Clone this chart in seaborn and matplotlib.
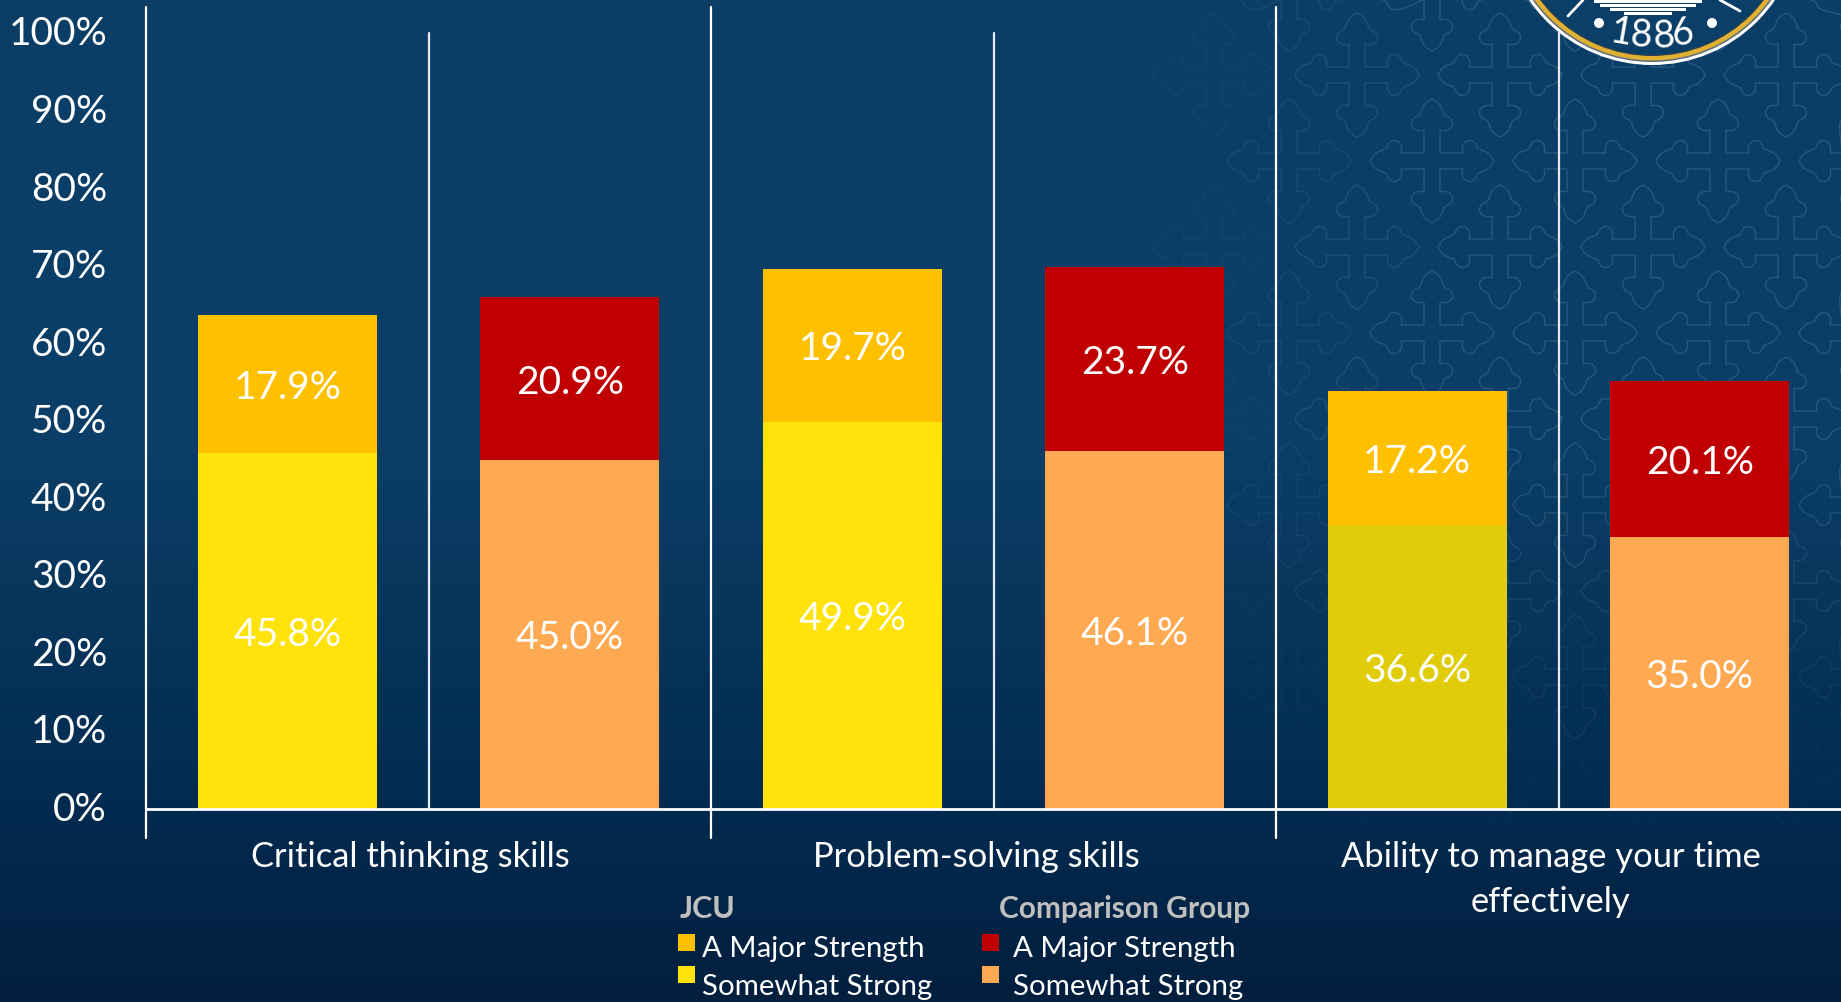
import numpy as np
import pandas as pd
import matplotlib
matplotlib.use("Agg")
import matplotlib.pyplot as plt
from matplotlib.path import Path
from matplotlib.patches import PathPatch, Circle, Rectangle
from matplotlib.colors import LinearSegmentedColormap
from matplotlib.transforms import ScaledTranslation
import seaborn as sns

categories = ["Critical thinking skills", "Problem-solving skills", "Ability to manage your time\neffectively"]
slots = ["JCU 1", "Comparison 1", "JCU 2", "Comparison 2", "JCU 3", "Comparison 3"]
somewhat = [45.8, 45.0, 49.9, 46.1, 36.6, 35.0]
major = [17.9, 20.9, 19.7, 23.7, 17.2, 20.1]
somewhat_colors = ["#FFE30B", "#FFA952", "#FFE30B", "#FFA952", "#E0CC08", "#FFA952"]
major_colors = ["#FFC000", "#C00000", "#FFC000", "#C00000", "#FFC000", "#C00000"]
y_ticks = list(range(0, 101, 10))

W, H = 1841, 1002
sns.set_theme(style="white")
plt.rcParams["font.family"] = ["Lato", "DejaVu Sans"]
fig = plt.figure(figsize=(W / 100, H / 100), dpi=100)

# Background gradient and pattern, in pixel coordinates
bg = fig.add_axes([0, 0, 1, 1], zorder=0)
bg.set_xlim(0, W); bg.set_ylim(H, 0); bg.axis("off")
cmap = LinearSegmentedColormap.from_list("bg", [(0, "#0B3F68"), (0.45, "#0B3E66"), (0.8, "#032B50"), (1, "#021F3E")])
bg.imshow(np.linspace(0, 1, 256)[:, None], extent=[0, W, H, 0], cmap=cmap, aspect="auto", zorder=0)

def cross(cx, cy):
    verts, codes = [], []
    half = [((8, -8), Path.LINETO), ((31, -8), Path.LINETO),
            ((27, -20), Path.CURVE4), ((41, -26), Path.CURVE4), ((45, -14), Path.CURVE4),
            ((47, -9), Path.CURVE4), ((56, -13), Path.CURVE4), ((62, 0), Path.CURVE4),
            ((56, 13), Path.CURVE4), ((47, 9), Path.CURVE4), ((45, 14), Path.CURVE4),
            ((41, 26), Path.CURVE4), ((27, 20), Path.CURVE4), ((31, 8), Path.CURVE4),
            ((8, 8), Path.LINETO)]
    for k in range(4):
        a = k * np.pi / 2
        c, n = np.array([np.cos(a), np.sin(a)]), np.array([-np.sin(a), np.cos(a)])
        for (p, q), code in half:
            verts.append((cx + p * c[0] + q * n[0], cy + p * c[1] + q * n[1]))
            codes.append(code)
    codes[0] = Path.MOVETO
    verts.append(verts[0]); codes.append(Path.CLOSEPOLY)
    return Path(verts, codes)

for row in range(-1, 10):
    for col in range(-3, 4):
        cx = 1500 + col * 143 + (row % 2 == 1) * (-68)
        cy = 75 + row * 86
        fade_x = np.clip((cx - 1150) / 300, 0, 1)
        fade_y = np.clip((830 - cy) / 380, 0, 1)
        alpha = 0.22 * fade_x * fade_y
        if alpha > 0.01:
            bg.add_patch(PathPatch(cross(cx, cy), fc="none", ec="#8FB0D0", lw=1.0, alpha=alpha, zorder=1))

# Seal
sx, sy, r = 1652, -84, 149
for rad, col in [(r, "white"), (r - 3, "#5A6A80"), (r - 4.5, "#E0B030"), (r - 9, "#2A3F55"), (r - 10.5, "#0B3F68")]:
    bg.add_patch(Circle((sx, sy), rad, fc=col, ec="none", zorder=2))
for ch, dx, dy, rot in [("1", -30, 33, -10), ("8", -11, 36, -3), ("8", 11, 36, 3), ("6", 31, 33, 9)]:
    bg.text(sx + dx, dy, ch, color="white", fontsize=27, ha="center", va="center", rotation=rot, zorder=3)
for dx in (-53, 60):
    bg.add_patch(Circle((sx + dx, 23), 5, fc="white", ec="none", zorder=3))
for half, yy in [(54, 0), (48, 4), (38, 8), (24, 12)]:
    bg.add_patch(Rectangle((sx - 4 - half, yy), 2 * half, 2.5, fc="white", ec="none", zorder=3))
bg.plot([1568, 1583], [16, 0], color="white", lw=2, zorder=3)
bg.plot([1720, 1740], [0, 11], color="white", lw=2, zorder=3)

# Chart
x0, x1, y0, y100 = 146, 1841, 808.5, 33
ax = fig.add_axes([x0 / W, 1 - y0 / H, (x1 - x0) / W, (y0 - y100) / H], zorder=2)
ax.patch.set_alpha(0)
df = pd.DataFrame({"slot": slots, "somewhat": somewhat, "major": major})
df["total"] = df["somewhat"] + df["major"]
sns.barplot(data=df, x="slot", y="total", hue="slot", palette=major_colors, legend=False,
            width=0.635, saturation=1, ax=ax, dodge=False, linewidth=0, zorder=3)
sns.barplot(data=df, x="slot", y="somewhat", hue="slot", palette=somewhat_colors, legend=False,
            width=0.635, saturation=1, ax=ax, dodge=False, linewidth=0, zorder=4)
ax.set_xlim(-0.5, 5.5)
ax.set_ylim(0, 100)
ax.set_xlabel(""); ax.set_ylabel("")
ax.set_yticks(y_ticks)
ax.set_yticklabels([f"{v}%" for v in y_ticks], color="white", fontsize=28)
ax.tick_params(axis="y", length=0, pad=28)
ax.set_xticks([])
for s in ax.spines.values():
    s.set_visible(False)
shift = ScaledTranslation(0, 1.5 / 72, fig.dpi_scale_trans)
for lab in ax.get_yticklabels():
    lab.set_transform(lab.get_transform() + shift)

for i in range(6):
    for val, pos in [(somewhat[i], somewhat[i] / 2), (major[i], somewhat[i] + major[i] / 2)]:
        ax.annotate(f"{val:.1f}%", (i, pos), xytext=(0, -3), textcoords="offset points", color="white",
                    fontsize=28, ha="center", va="center", zorder=6)

tr = ax.get_xaxis_transform()
ax.plot([-0.5, 5.5], [0, 0], transform=tr, color="white", lw=2, clip_on=False, zorder=5)
over = (y100 - 7) / (y0 - y100)
below = (838 - y0) / (y0 - y100)
for k in range(0, 6):
    xx = k - 0.5
    if k % 2 == 0:
        ax.plot([xx, xx], [-below, 1 + over], transform=tr, color="white", lw=1.6, clip_on=False, zorder=1)
    else:
        ax.plot([xx, xx], [0, 1], transform=tr, color="#E6EAF0", lw=1.6, clip_on=False, zorder=1)

for xc, c in zip([0.435, 2.44, 4.473], categories):
    ax.text(xc, -0.042, c, transform=tr, color="white", fontsize=24.8, ha="center", va="top", linespacing=1.5)

# Legend in figure pixels
ov = fig.add_axes([0, 0, 1, 1], zorder=3)
ov.set_xlim(0, W); ov.set_ylim(H, 0); ov.axis("off"); ov.patch.set_alpha(0)
ov.text(680, 909, "JCU", color="#BFBFBF", fontsize=22, fontweight="bold", va="center")
ov.text(999, 909, "Comparison Group", color="#BFBFBF", fontsize=21.5, fontweight="bold", va="center")
for (lx, tx, cols) in [(678, 702, ("#FFC000", "#FFE30B")), (982, 1013, ("#C00000", "#FFA952"))]:
    for (yy, ty, col, lab) in [(934, 949, cols[0], "A Major Strength"), (966, 987, cols[1], "Somewhat Strong")]:
        ov.add_patch(Rectangle((lx, yy), 17, 17, fc=col, ec="none"))
        ov.text(tx, ty, lab, color="white", fontsize=21.2, va="center")

fig.savefig("out.png", dpi=100)
